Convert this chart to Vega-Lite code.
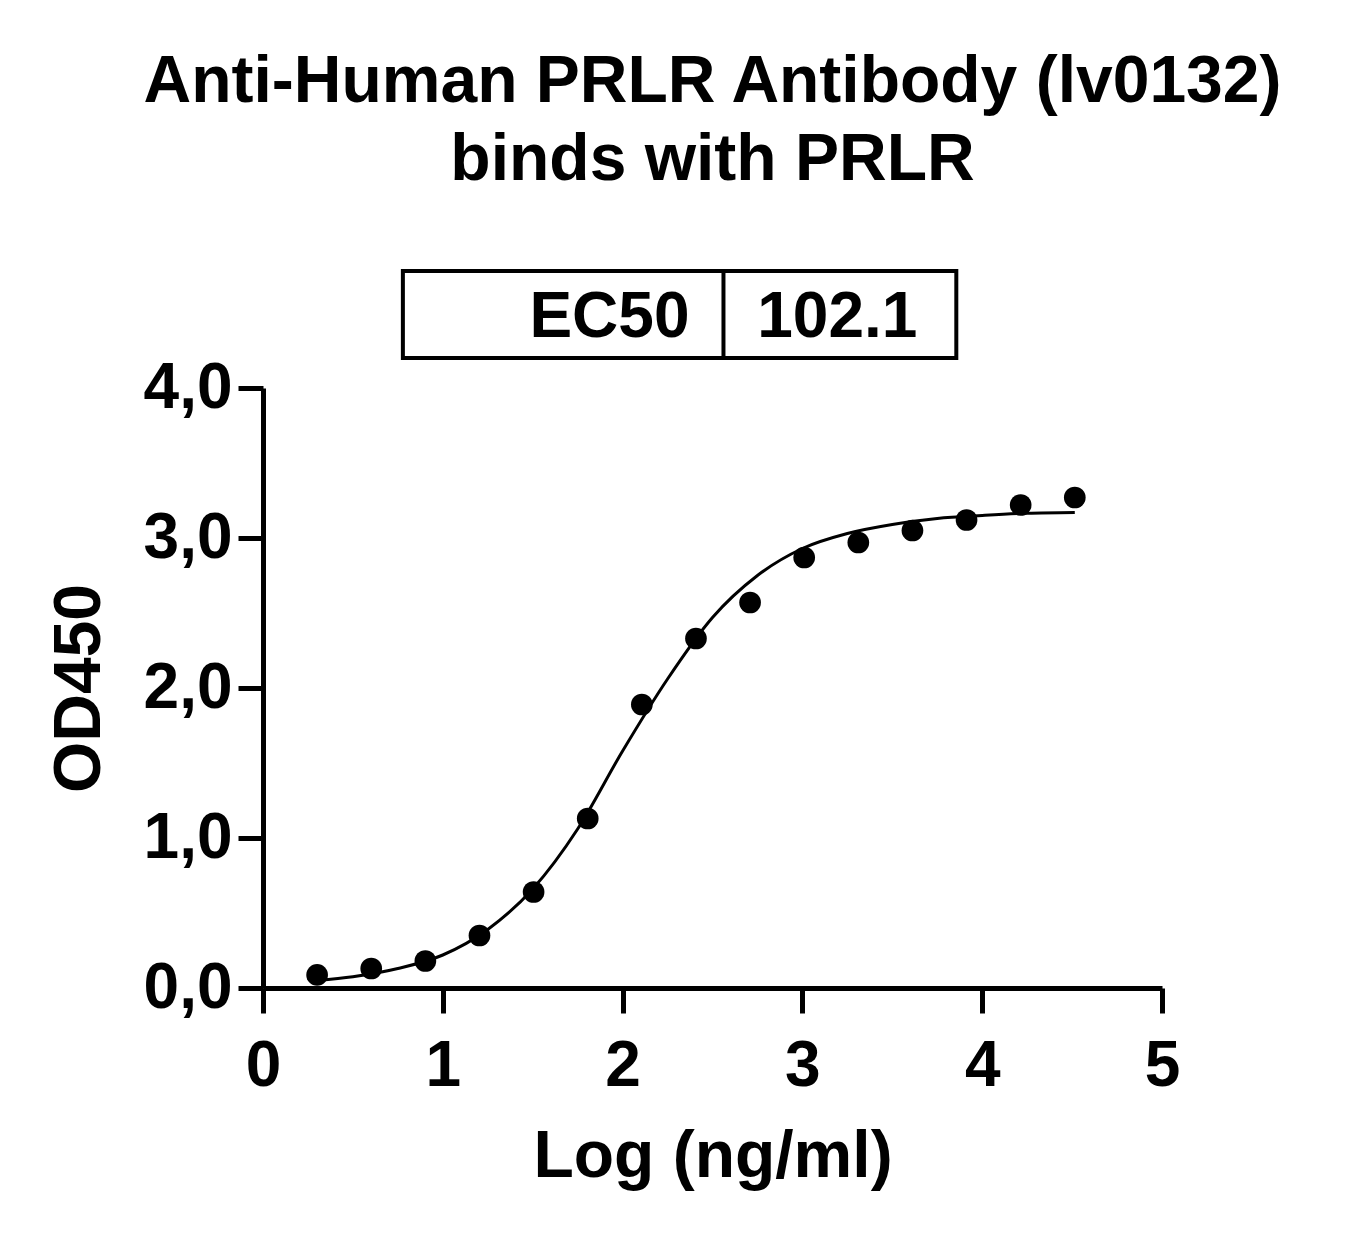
{
  "$schema": "https://vega.github.io/schema/vega-lite/v6.json",
  "autosize": {"type": "none"},
  "padding": {"left": 263, "top": 388, "right": 200, "bottom": 249},
  "width": 899,
  "height": 600,
  "background": "white",
  "config": {
    "view": {"stroke": null},
    "font": "Liberation Sans",
    "axis": {
      "labelFont": "Liberation Sans",
      "titleFont": "Liberation Sans",
      "labelFontWeight": "bold",
      "titleFontWeight": "bold",
      "labelFontSize": 64,
      "titleFontSize": 66,
      "labelColor": "black",
      "titleColor": "black",
      "domainColor": "black",
      "tickColor": "black",
      "domainWidth": 5,
      "tickWidth": 5,
      "tickSize": 25,
      "labelFlush": false,
      "grid": false
    }
  },
  "title": {
    "text": ["Anti-Human PRLR Antibody (lv0132)", "binds with PRLR"],
    "font": "Liberation Sans",
    "fontSize": 66,
    "fontWeight": "bold",
    "color": "black",
    "lineHeight": 78,
    "anchor": "middle",
    "frame": "group",
    "offset": 75
  },
  "datasets": {
    "points": [
      {"logconc": 0.301, "od": 0.087},
      {"logconc": 0.602, "od": 0.13},
      {"logconc": 0.903, "od": 0.18},
      {"logconc": 1.204, "od": 0.35},
      {"logconc": 1.505, "od": 0.64},
      {"logconc": 1.806, "od": 1.13},
      {"logconc": 2.107, "od": 1.89},
      {"logconc": 2.408, "od": 2.33},
      {"logconc": 2.709, "od": 2.57},
      {"logconc": 3.01, "od": 2.87},
      {"logconc": 3.311, "od": 2.97},
      {"logconc": 3.612, "od": 3.05},
      {"logconc": 3.913, "od": 3.12},
      {"logconc": 4.214, "od": 3.22},
      {"logconc": 4.515, "od": 3.27}
    ],
    "curve": [
      {"logconc": 0.3, "od": 0.05},
      {"logconc": 0.5, "od": 0.075},
      {"logconc": 0.75, "od": 0.13},
      {"logconc": 1.0, "od": 0.22},
      {"logconc": 1.25, "od": 0.39},
      {"logconc": 1.5, "od": 0.66},
      {"logconc": 1.75, "od": 1.06},
      {"logconc": 2.0, "od": 1.58},
      {"logconc": 2.25, "od": 2.06},
      {"logconc": 2.5, "od": 2.47},
      {"logconc": 2.75, "od": 2.75},
      {"logconc": 3.0, "od": 2.93},
      {"logconc": 3.25, "od": 3.03},
      {"logconc": 3.5, "od": 3.09},
      {"logconc": 3.75, "od": 3.13},
      {"logconc": 4.0, "od": 3.15},
      {"logconc": 4.25, "od": 3.165},
      {"logconc": 4.515, "od": 3.17}
    ],
    "table": [
      {"label": "EC50", "value": "102.1"}
    ]
  },
  "layer": [
    {
      "data": {"name": "curve"},
      "mark": {"type": "line", "color": "black", "strokeWidth": 3, "interpolate": "monotone"},
      "encoding": {
        "x": {
          "field": "logconc",
          "type": "quantitative",
          "scale": {"domain": [0, 5], "nice": false, "zero": false},
          "axis": {
            "values": [0, 1, 2, 3, 4, 5],
            "format": "d",
            "labelPadding": 21,
            "title": "Log (ng/ml)",
            "titlePadding": 26
          }
        },
        "y": {
          "field": "od",
          "type": "quantitative",
          "scale": {"domain": [0, 4], "nice": false},
          "axis": {
            "values": [0, 1, 2, 3, 4],
            "labelExpr": "replace(format(datum.value, '.1f'), '.', ',')",
            "labelPadding": 6,
            "title": "OD450",
            "titlePadding": 30
          }
        }
      }
    },
    {
      "data": {"name": "points"},
      "mark": {"type": "point", "filled": true, "color": "black", "opacity": 1, "size": 470},
      "encoding": {
        "x": {"field": "logconc", "type": "quantitative"},
        "y": {"field": "od", "type": "quantitative"}
      }
    },
    {
      "data": {"name": "table"},
      "mark": {"type": "rect", "fill": null, "fillOpacity": 0, "stroke": "black", "strokeWidth": 4},
      "encoding": {
        "x": {"datum": 0.778, "type": "quantitative"},
        "x2": {"datum": 3.856},
        "y": {"datum": 4.2, "type": "quantitative"},
        "y2": {"datum": 4.78}
      }
    },
    {
      "data": {"name": "table"},
      "mark": {"type": "rule", "color": "black", "strokeWidth": 4},
      "encoding": {
        "x": {"datum": 2.561, "type": "quantitative"},
        "y": {"datum": 4.2, "type": "quantitative"},
        "y2": {"datum": 4.78}
      }
    },
    {
      "data": {"name": "table"},
      "mark": {"type": "text", "align": "right", "baseline": "alphabetic", "font": "Liberation Sans", "fontSize": 64, "fontWeight": "bold", "color": "black"},
      "encoding": {
        "x": {"datum": 2.372, "type": "quantitative"},
        "y": {"datum": 4.34, "type": "quantitative"},
        "text": {"field": "label"}
      }
    },
    {
      "data": {"name": "table"},
      "mark": {"type": "text", "align": "center", "baseline": "alphabetic", "font": "Liberation Sans", "fontSize": 64, "fontWeight": "bold", "color": "black"},
      "encoding": {
        "x": {"datum": 3.194, "type": "quantitative"},
        "y": {"datum": 4.34, "type": "quantitative"},
        "text": {"field": "value"}
      }
    }
  ]
}
